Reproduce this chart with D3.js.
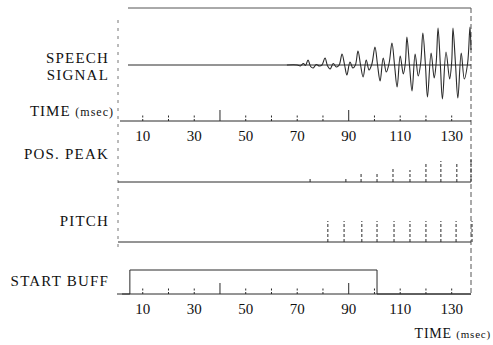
<!DOCTYPE html>
<html>
<head>
<meta charset="utf-8">
<script src="https://cdn.jsdelivr.net/npm/d3@7"></script>
<style>
  body { margin: 0; background: #fff; }
  text { font-family: "Liberation Serif", "DejaVu Serif", serif; fill: #111; }
</style>
</head>
<body>
<div id="container"></div>
<script>
// speech waveform: [time ms, amplitude]
const speech = [
  [66, 0], [70, 0], [71.2, -1], [72.4, 1.5], [73.2, -0.5], [74.2, 5], [75.2, -1.5], [76.2, -3], [77.4, 0.5], [78.6, -1], [79.6, 0],
  [80.8, 7], [81.8, -1], [82.8, -4], [84, 1.5], [85.2, -2], [86.3, 0],
  [87.4, 11], [88.4, 0], [89.3, -10], [90.5, 3], [91.6, -3], [92.6, 0],
  [93.6, 14], [94.6, 0], [95.6, -12], [96.8, 5], [97.9, -5], [99, 1],
  [100.2, 18], [101.2, 0], [102.2, -16], [103.4, 7], [104.6, -7], [105.7, 2],
  [106.8, 22], [107.8, 0], [108.8, -22], [110, 9], [111.2, -9], [112, 2],
  [112.6, 28], [113.6, 0], [114.6, -26], [115.8, 11], [117, -11], [118, 3],
  [118.8, 32], [119.8, 0], [120.6, -32], [122, 12], [123.2, -13], [124, 3],
  [124.7, 37], [125.6, 0], [126.4, -34], [127.8, 13], [129.2, -14], [130, 3],
  [130.5, 37], [131.5, 0], [132.4, -33], [133.7, 12], [134.9, -14], [136.2, 2],
  [137.1, 38], [137.5, 15]
];

const timeTicks = [10, 20, 30, 40, 50, 60, 70, 80, 90, 100, 110, 120, 130];
const tallTicks = [40, 90];
const tickLabels = [10, 30, 50, 70, 90, 110, 130];

const posPeakTimes = [75, 88.9, 94.8, 101, 107.2, 113.8, 120, 125.8, 132, 137.5];
const posPeakHeights = [3, 5, 8, 10, 13, 12, 18, 21, 20, 23];

const pitchTimes = [81.9, 88.2, 95.1, 101, 107.6, 113.8, 120, 125.8, 131.7, 137.9];

const startBuff = [[0, 0], [5, 0], [5, 1], [101, 1], [101, 0], [137.5, 0]];

const config = {
    width: 493,
    height: 345,
    left: 117,
    right: 471,
    speechBase: 65,
    timeBase: 121,
    peakBase: 182,
    pitchBase: 242,
    buffBase: 294,
    buffTop: 270,
}

const svg = d3.select('#container')
    .append('svg')
    .attr('width', config.width)
    .attr('height', config.height)

const x = d3.scaleLinear()
    .domain([0, 137.5])
    .range([config.left, config.right])

const speechY = d3.scaleLinear()
    .domain([-57, 57])
    .range([config.speechBase + 57, config.speechBase - 57])

const peakY = d3.scaleLinear()
    .domain([0, 25])
    .range([config.peakBase, config.peakBase - 25])

const buffY = d3.scaleLinear()
    .domain([0, 1])
    .range([config.buffBase, config.buffTop])

const ink = '#2a2a2a'

// frame lines
svg.append('line')
    .attr('x1', 128).attr('x2', config.right)
    .attr('y1', 8).attr('y2', 8)
    .attr('stroke', '#555').attr('stroke-width', 1)

svg.append('line')
    .attr('x1', 118).attr('x2', 118)
    .attr('y1', 20).attr('y2', 250)
    .attr('stroke', '#777').attr('stroke-dasharray', '3,5')

svg.append('line')
    .attr('x1', config.right).attr('x2', config.right)
    .attr('y1', 8).attr('y2', config.buffBase)
    .attr('stroke', '#555').attr('stroke-dasharray', '5,3')

// baselines
const baselines = [
    {y: config.speechBase, x0: 128},
    {y: config.timeBase, x0: 120},
    {y: config.peakBase, x0: 118},
    {y: config.pitchBase, x0: 118},
    {y: config.buffBase, x0: 122},
]
svg.append('g')
    .selectAll('line')
    .data(baselines)
    .join('line')
    .attr('x1', d => d.x0).attr('x2', config.right)
    .attr('y1', d => d.y).attr('y2', d => d.y)
    .attr('stroke', ink).attr('stroke-width', 1)

// speech waveform
svg.append('path')
    .datum(speech)
    .attr('fill', 'none')
    .attr('stroke', ink)
    .attr('stroke-width', 1.1)
    .attr('d', d3.line()
        .x(d => x(d[0]))
        .y(d => speechY(d[1]))
        .curve(d3.curveCatmullRom))

// time axes (top one and bottom one)
const drawTimeAxis = (base) => {
    svg.append('g')
        .selectAll('line')
        .data(timeTicks)
        .join('line')
        .attr('x1', d => x(d)).attr('x2', d => x(d))
        .attr('y1', base)
        .attr('y2', d => base - (tallTicks.includes(d) ? 11 : 6))
        .attr('stroke', ink)
        .attr('stroke-dasharray', d => tallTicks.includes(d) ? null : '2,1.5')

    svg.append('g')
        .selectAll('text')
        .data(tickLabels)
        .join('text')
        .attr('x', d => x(d))
        .attr('y', base + 20)
        .attr('text-anchor', 'middle')
        .style('font-size', '15px')
        .text(d => d)
}
drawTimeAxis(config.timeBase)
drawTimeAxis(config.buffBase)

// positive peaks
svg.append('g')
    .selectAll('line')
    .data(posPeakTimes)
    .join('line')
    .attr('x1', d => x(d)).attr('x2', d => x(d))
    .attr('y1', config.peakBase)
    .attr('y2', (d, i) => peakY(posPeakHeights[i]))
    .attr('stroke', ink)
    .attr('stroke-dasharray', '3,2')

// pitch marks
svg.append('g')
    .selectAll('line')
    .data(pitchTimes)
    .join('line')
    .attr('x1', d => x(d)).attr('x2', d => x(d))
    .attr('y1', config.pitchBase)
    .attr('y2', config.pitchBase - 21)
    .attr('stroke', ink)
    .attr('stroke-dasharray', '3,2')

// start buffer step
svg.append('path')
    .datum(startBuff)
    .attr('fill', 'none')
    .attr('stroke', ink)
    .attr('stroke-width', 1)
    .attr('d', d3.line()
        .x(d => x(d[0]))
        .y(d => buffY(d[1])))

// row labels
const labels = [
    {text: 'SPEECH', y: 63},
    {text: 'SIGNAL', y: 80},
    {text: 'POS. PEAK', y: 159},
    {text: 'PITCH', y: 226},
    {text: 'START  BUFF', y: 286},
]
svg.append('g')
    .selectAll('text')
    .data(labels)
    .join('text')
    .attr('x', 109)
    .attr('y', d => d.y)
    .attr('text-anchor', 'end')
    .style('font-size', '15px')
    .style('letter-spacing', '1.2px')
    .text(d => d.text)

const timeLabel = svg.append('text')
    .attr('x', 114)
    .attr('y', 116)
    .attr('text-anchor', 'end')
    .style('font-size', '15px')
    .style('letter-spacing', '1px')
timeLabel.append('tspan').text('TIME ')
timeLabel.append('tspan').style('font-size', '12px').text('(msec)')

const timeLabel2 = svg.append('text')
    .attr('x', 491)
    .attr('y', 338)
    .attr('text-anchor', 'end')
    .style('font-size', '14px')
    .style('letter-spacing', '0.8px')
timeLabel2.append('tspan').text('TIME ')
timeLabel2.append('tspan').style('font-size', '11px').text('(msec)')
</script>
</body>
</html>
